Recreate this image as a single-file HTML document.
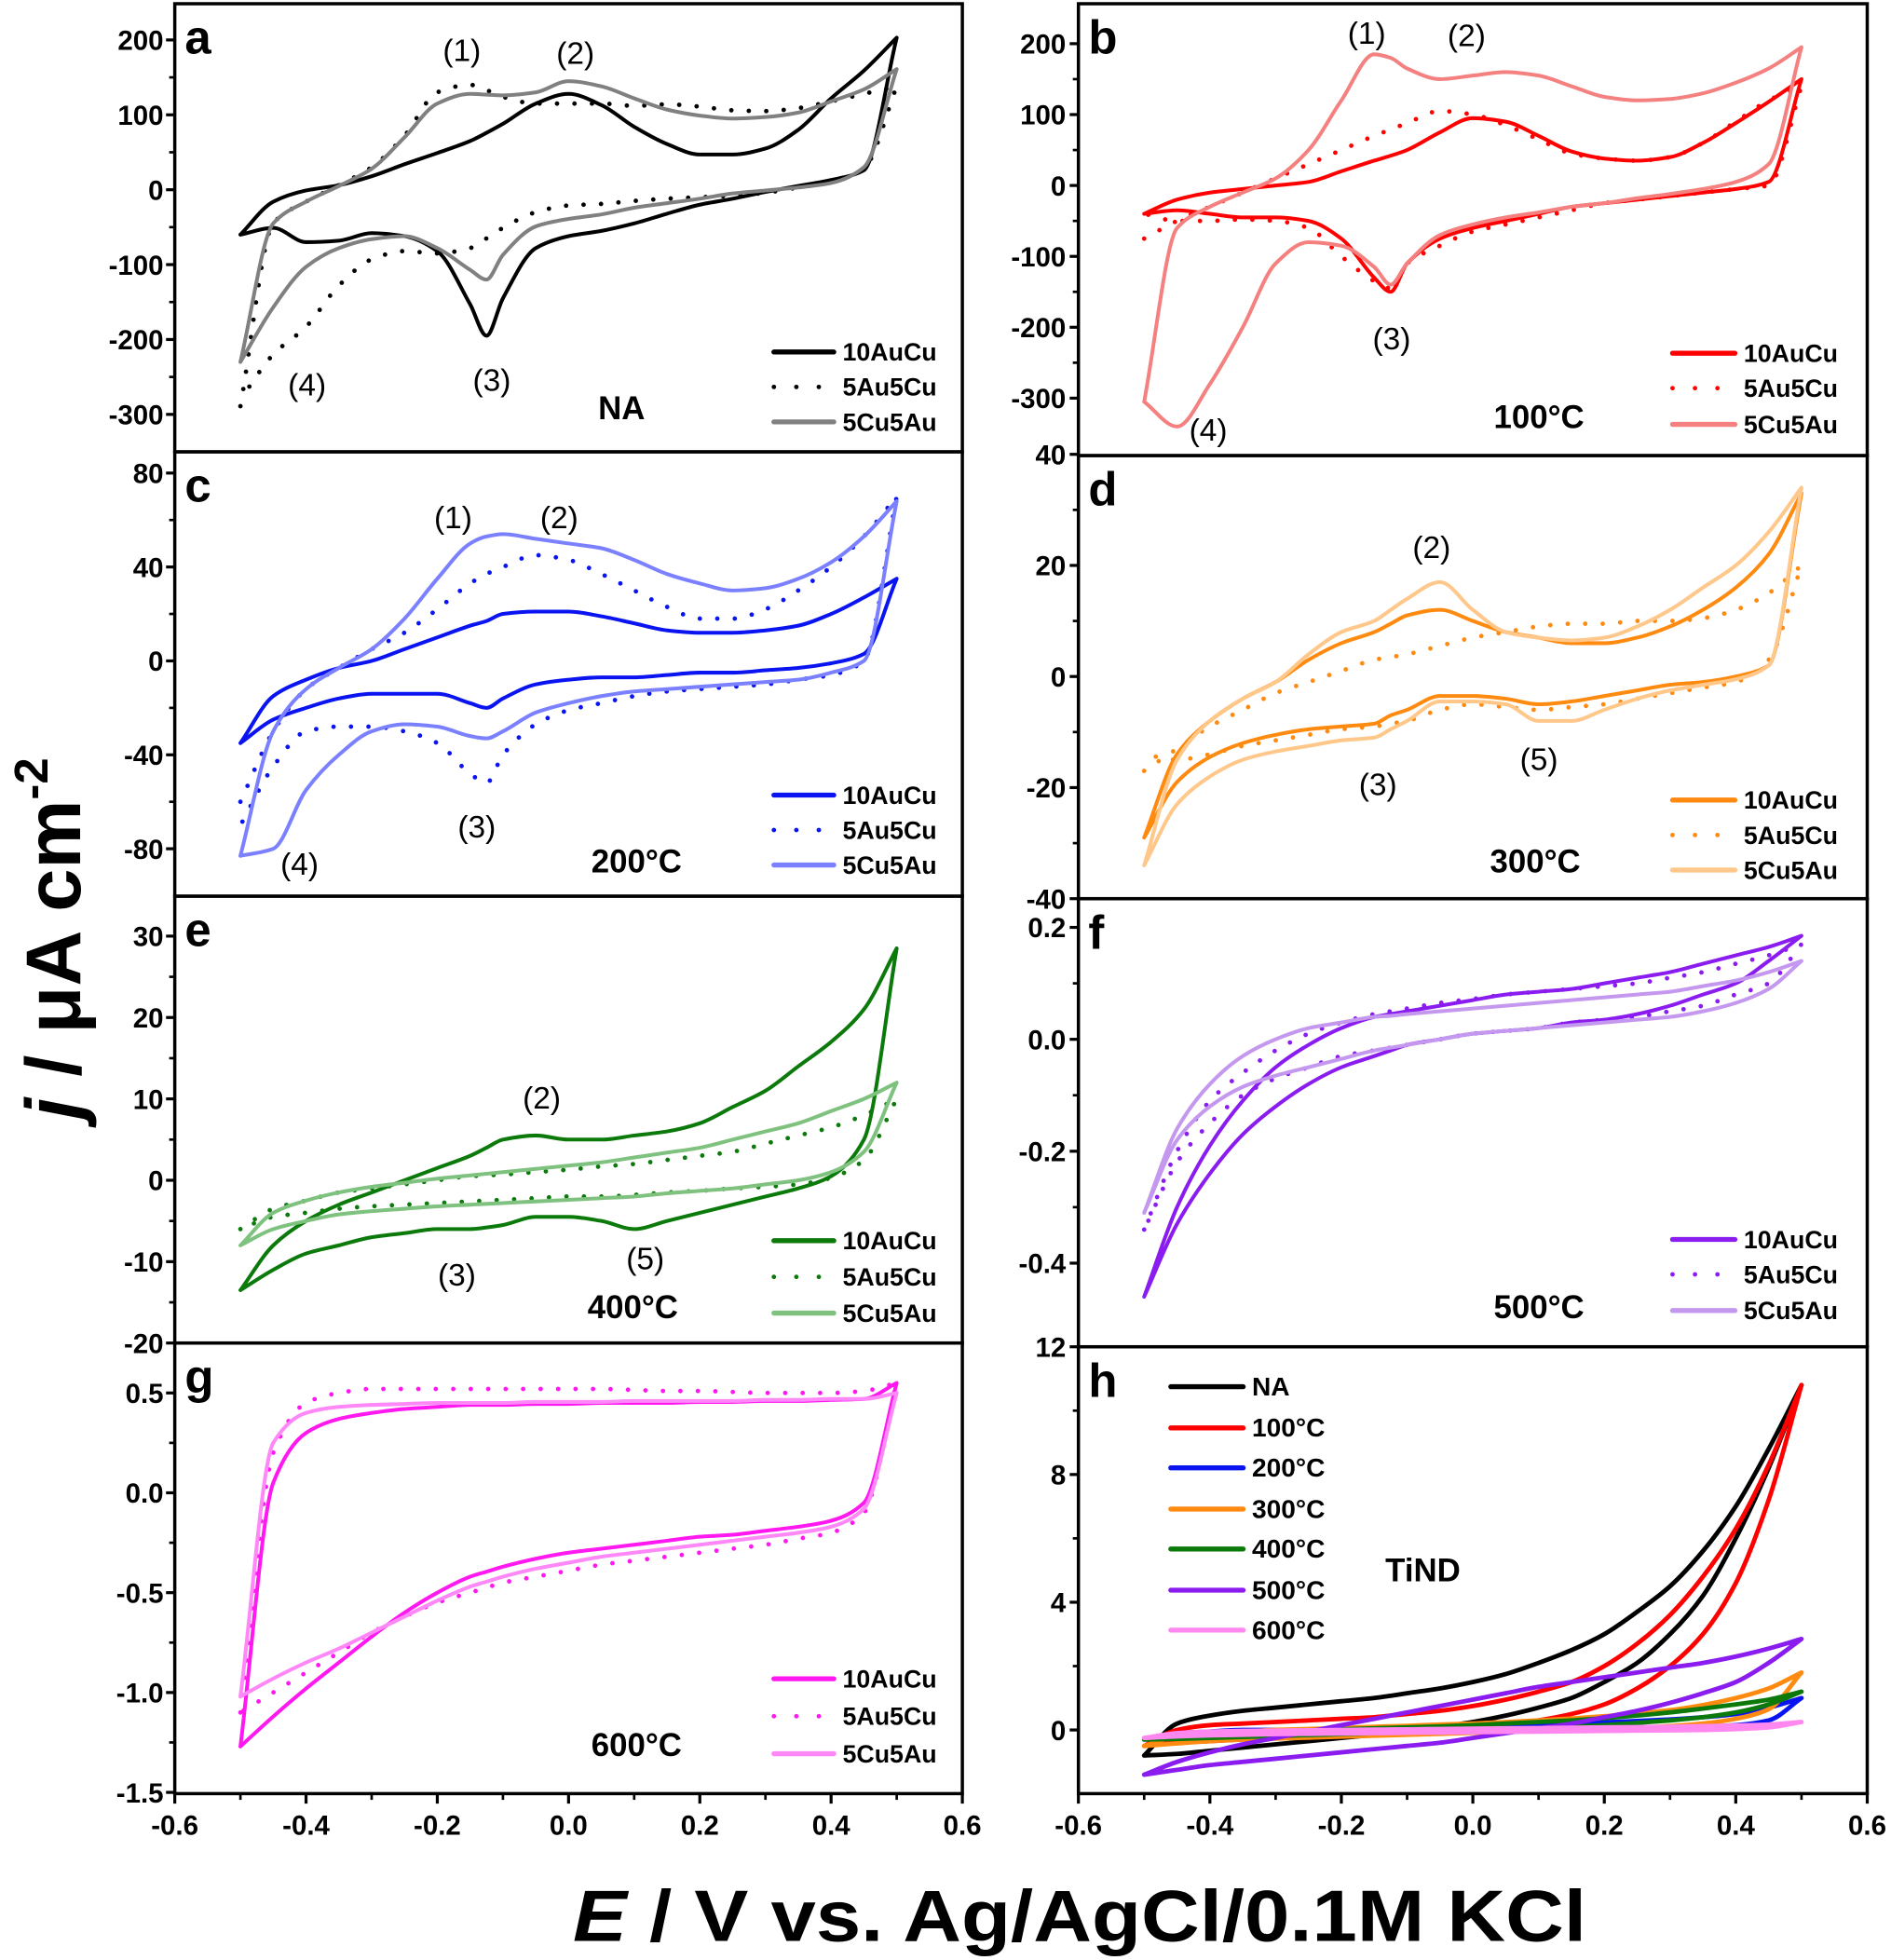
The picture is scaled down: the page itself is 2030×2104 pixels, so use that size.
<!DOCTYPE html>
<html><head><meta charset="utf-8"><title>CV panels</title>
<style>
html,body{margin:0;padding:0;background:#fff;}
svg{display:block;}
text{font-family:"Liberation Sans",Arial,sans-serif;}
</style></head>
<body>
<svg id="fig" xmlns="http://www.w3.org/2000/svg" width="2030" height="2104" viewBox="0 0 1515 1570.3">
<rect x="0" y="0" width="1515" height="1571" fill="#fff"/>
<text transform="translate(64,752) rotate(-90)" text-anchor="middle" font-size="62" font-weight="bold"><tspan font-style="italic">j</tspan> / μA cm<tspan font-size="38" dy="-26">-2</tspan></text>
<text x="865" y="1555" text-anchor="middle" font-size="58" font-weight="bold" textLength="812" lengthAdjust="spacingAndGlyphs"><tspan font-style="italic">E</tspan> / V vs. Ag/AgCl/0.1M KCl</text>
</svg>
<script>
// shared potential grid (V)
const E = [-0.5,-0.45,-0.4,-0.35,-0.3,-0.25,-0.2,-0.15,-0.125,-0.1,-0.05,0,0.05,0.1,0.15,0.2,0.25,0.3,0.35,0.4,0.45,0.5];
const xTickValues = [-0.6,-0.4,-0.2,0,0.2,0.4,0.6];
const xTickLabels = ["-0.6","-0.4","-0.2","0.0","0.2","0.4","0.6"];
const seriesNames = ["10AuCu","5Au5Cu","5Cu5Au"];
const tindNames = ["NA","100°C","200°C","300°C","400°C","500°C","600°C"];

// panel a (NA)
const a10Up = [-60,-16,-1,6,18,34,49,65,76,88,115,128,113,84,61,47,47,55,80,122,159,203];
const a10Lo = [-60,-51,-70,-68,-58,-62,-82,-153,-195,-145,-78,-62,-55,-45,-32,-20,-12,-3,5,13,26];
const a55Up = [-289,-45,-16,6,30,72,130,140,133,124,115,115,115,112,114,111,106,105,109,118,128,138];
const a55Lo = [-280,-220,-183,-128,-93,-82,-85,-78,-65,-51,-30,-21,-19,-15,-12,-10,-8,-4,3,10,28];
const a5cUp = [-230,-45,-16,5,28,70,115,128,127,126,130,145,138,122,107,99,95,97,103,118,134,161];
const a5cLo = [-230,-157,-103,-78,-66,-62,-78,-107,-120,-87,-49,-39,-33,-24,-18,-12,-5,-1,3,9,30];
// panel b (100C)
const b10Up = [-40,-20,-10,-5,0,5,20,35,42,50,75,95,90,70,48,38,35,40,60,88,118,150];
const b10Lo = [-40,-35,-40,-45,-45,-50,-75,-130,-150,-110,-75,-60,-50,-40,-30,-25,-20,-15,-10,-5,5];
const b55Up = [-75,-50,-30,-10,10,30,50,70,79,88,105,100,85,65,45,38,35,40,60,90,120,140];
const b55Lo = [-40,-50,-50,-48,-50,-60,-100,-135,-145,-110,-85,-65,-55,-45,-35,-25,-20,-15,-10,-5,0];
const b5cUp = [-305,-60,-30,-10,10,50,120,185,180,165,150,155,160,155,140,125,120,122,130,145,165,195];
const b5cLo = [-305,-340,-280,-200,-110,-80,-85,-115,-140,-110,-70,-55,-45,-38,-30,-25,-18,-12,-5,5,30];
// panel c (200C)
const c10Up = [-35,-15,-8,-3,0,5,10,15,17,20,21,21,19,16,13,12,12,13,15,20,27,35];
const c10Lo = [-35,-25,-20,-16,-14,-14,-14,-18,-20,-16,-10,-8,-7,-7,-6,-5,-5,-4,-3,-1,3];
const c55Up = [-60,-30,-12,-3,5,12,22,33,37,40,45,43,37,30,23,18,18,22,30,40,53,70];
const c55Lo = [-70,-45,-30,-28,-28,-30,-35,-48,-52,-40,-27,-21,-18,-15,-13,-12,-11,-10,-8,-6,0];
const c5cUp = [-83,-30,-12,-3,5,18,35,50,53,54,52,50,48,43,37,33,30,31,35,42,53,68];
const c5cLo = [-83,-80,-55,-40,-30,-27,-28,-32,-33,-30,-22,-18,-15,-13,-12,-11,-10,-9,-8,-5,0];
// panel d (300C)
const d10Up = [-29,-14,-8,-4,-1,3,6,8,9.5,11,12,10,8,7,6,6,7,9,12,16,22,33];
const d10Lo = [-29,-19,-14.5,-12,-10.5,-9.5,-9,-8.5,-7,-6,-3.5,-3.5,-4,-5,-4.5,-3.5,-2.5,-1.5,-1,0,2];
const d55Up = [-17,-13,-9,-6,-3,-1,1,3,3.5,4,5.5,7,8,9,9.5,9.5,10,10,10.5,12,15,20];
const d55Lo = [-14,-15,-14,-12.5,-11.5,-10.5,-9.5,-9,-8.5,-8,-6,-5,-5.5,-6,-5.5,-5,-4,-3,-2,-1,3];
const d5cUp = [-34,-15,-8,-4,-1,4,8,10,12,14,17,12,8,7,6.5,7,9,12,16,20,26,34];
const d5cLo = [-34,-23,-18,-15,-13.5,-12.5,-11.5,-11,-9.5,-8,-4.5,-4.5,-5,-8,-8,-6,-4,-2.5,-1.5,-0.5,2];
// panel e (400C)
const e10Up = [-13.5,-8,-5,-3,-1.5,0,1.5,3,4,5,5.5,5,5,5.5,6,7,9,11,14,17,21,28.5];
const e10Lo = [-13.5,-11,-9,-8,-7,-6.5,-6,-6,-5.8,-5.5,-4.5,-4.5,-5,-6,-5,-4,-3,-2,-1,0.5,5];
const e55Up = [-6,-3.5,-2.5,-1.5,-1,-0.5,0,0.5,0.6,0.7,1,1.3,1.7,2,2.5,3,3.5,4.5,5.5,6.5,8,10];
const e55Lo = [-6,-4.5,-4,-3.5,-3.2,-3,-2.8,-2.6,-2.5,-2.4,-2.2,-2,-2,-1.8,-1.5,-1.3,-1,-0.8,-0.5,0.3,2.5];
const e5cUp = [-8,-4,-2.5,-1.5,-0.8,-0.3,0.2,0.6,0.8,1,1.4,1.8,2.2,2.8,3.4,4,5,6,7,8.5,10,12];
const e5cLo = [-8,-6,-5,-4.2,-3.8,-3.5,-3.2,-3,-2.9,-2.8,-2.6,-2.4,-2.2,-2,-1.6,-1.3,-1,-0.5,0,1,3.5];
// panel f (500C)
const f10Up = [-0.46,-0.3,-0.19,-0.11,-0.05,-0.01,0.02,0.04,0.045,0.05,0.06,0.07,0.08,0.085,0.09,0.1,0.11,0.12,0.135,0.15,0.165,0.185];
const f10Lo = [-0.46,-0.33,-0.24,-0.17,-0.12,-0.08,-0.05,-0.03,-0.02,-0.01,0,0.01,0.015,0.02,0.03,0.035,0.045,0.06,0.08,0.1,0.14];
const f55Up = [-0.34,-0.2,-0.11,-0.06,-0.02,0.01,0.03,0.045,0.05,0.055,0.065,0.072,0.08,0.085,0.09,0.095,0.1,0.11,0.12,0.135,0.15,0.17];
const f55Lo = [-0.34,-0.22,-0.15,-0.1,-0.07,-0.05,-0.03,-0.02,-0.015,-0.01,0,0.01,0.015,0.02,0.03,0.035,0.04,0.05,0.06,0.08,0.1];
const f5cUp = [-0.31,-0.16,-0.08,-0.03,0,0.02,0.03,0.04,0.042,0.045,0.05,0.055,0.06,0.065,0.07,0.075,0.08,0.085,0.095,0.105,0.12,0.14];
const f5cLo = [-0.31,-0.18,-0.12,-0.085,-0.065,-0.05,-0.035,-0.02,-0.015,-0.01,0,0.01,0.015,0.02,0.025,0.03,0.035,0.04,0.05,0.065,0.09];
// panel g (600C)
const g10Up = [-1.27,0.05,0.3,0.37,0.4,0.42,0.43,0.44,0.44,0.44,0.445,0.445,0.45,0.45,0.45,0.455,0.455,0.46,0.46,0.465,0.47,0.55];
const g10Lo = [-1.27,-1.12,-0.98,-0.85,-0.72,-0.6,-0.5,-0.42,-0.395,-0.37,-0.33,-0.3,-0.28,-0.26,-0.24,-0.22,-0.21,-0.19,-0.17,-0.14,-0.05];
const g55Up = [-1.1,0.2,0.45,0.5,0.52,0.52,0.52,0.52,0.52,0.52,0.52,0.52,0.52,0.515,0.51,0.51,0.505,0.5,0.5,0.5,0.51,0.55];
const g55Lo = [-1.1,-1.0,-0.9,-0.8,-0.7,-0.62,-0.55,-0.5,-0.475,-0.45,-0.42,-0.39,-0.36,-0.34,-0.32,-0.3,-0.28,-0.26,-0.23,-0.2,-0.1];
const g5cUp = [-1.02,0.25,0.4,0.43,0.44,0.445,0.45,0.45,0.45,0.45,0.455,0.455,0.455,0.46,0.46,0.46,0.46,0.465,0.465,0.47,0.47,0.5];
const g5cLo = [-1.02,-0.93,-0.85,-0.78,-0.7,-0.62,-0.54,-0.47,-0.445,-0.42,-0.38,-0.35,-0.32,-0.3,-0.28,-0.26,-0.24,-0.22,-0.2,-0.17,-0.08];
// panel h (TiND)
const hNAUp = [-0.8,0.2,0.45,0.6,0.7,0.8,0.9,1.0,1.07,1.15,1.3,1.5,1.75,2.1,2.5,3.0,3.7,4.5,5.6,7,8.8,10.8];
const hNALo = [-0.8,-0.75,-0.65,-0.55,-0.45,-0.35,-0.25,-0.15,-0.1,-0.05,0.1,0.25,0.45,0.7,1.0,1.5,2.1,3.0,4.2,6.0,8.2];
const h100Up = [-0.5,0,0.15,0.2,0.25,0.3,0.35,0.4,0.45,0.5,0.6,0.75,0.95,1.2,1.5,2.0,2.7,3.6,4.8,6.3,8.3,10.8];
const h100Lo = [-0.5,-0.4,-0.35,-0.3,-0.25,-0.2,-0.15,-0.1,-0.08,-0.05,0,0.05,0.15,0.3,0.5,0.8,1.3,2.0,3.0,4.6,7.2];
const h200Up = [-0.3,-0.1,-0.05,0,0,0.02,0.04,0.06,0.07,0.08,0.1,0.12,0.14,0.17,0.2,0.24,0.28,0.33,0.4,0.5,0.7,1.0];
const h200Lo = [-0.3,-0.24,-0.2,-0.18,-0.16,-0.14,-0.12,-0.1,-0.09,-0.08,-0.06,-0.04,-0.02,0,0.02,0.04,0.06,0.08,0.1,0.15,0.3];
const h300Up = [-0.5,-0.2,-0.1,-0.05,0,0.03,0.06,0.1,0.115,0.13,0.17,0.2,0.25,0.3,0.36,0.43,0.52,0.62,0.78,1.0,1.3,1.8];
const h300Lo = [-0.5,-0.42,-0.35,-0.3,-0.27,-0.24,-0.21,-0.18,-0.165,-0.15,-0.12,-0.09,-0.06,-0.03,0,0.03,0.07,0.12,0.2,0.35,0.65];
const h400Up = [-0.3,-0.15,-0.1,-0.07,-0.04,-0.01,0.02,0.05,0.065,0.08,0.11,0.15,0.2,0.25,0.3,0.37,0.45,0.55,0.67,0.8,0.95,1.2];
const h400Lo = [-0.3,-0.28,-0.25,-0.22,-0.19,-0.16,-0.13,-0.1,-0.085,-0.07,-0.04,-0.01,0.02,0.05,0.1,0.15,0.22,0.3,0.4,0.55,0.8];
const h500Up = [-1.4,-1.0,-0.7,-0.45,-0.25,-0.05,0.15,0.35,0.45,0.55,0.75,0.95,1.15,1.35,1.5,1.65,1.8,1.95,2.1,2.3,2.55,2.85];
const h500Lo = [-1.4,-1.25,-1.1,-1.0,-0.9,-0.8,-0.7,-0.6,-0.55,-0.5,-0.4,-0.25,-0.1,0.05,0.2,0.4,0.6,0.85,1.15,1.5,2.1];
const h600Up = [-0.25,-0.1,-0.05,-0.03,-0.02,-0.01,0,0.01,0.015,0.02,0.03,0.04,0.05,0.06,0.07,0.08,0.09,0.1,0.12,0.14,0.17,0.25];
const h600Lo = [-0.25,-0.2,-0.17,-0.15,-0.13,-0.12,-0.11,-0.1,-0.095,-0.09,-0.08,-0.07,-0.06,-0.05,-0.04,-0.03,-0.02,-0.01,0,0.03,0.08];

// y tick values / labels
const aTicks = [200,100,0,-100,-200,-300]; const aLabels = ["200","100","0","-100","-200","-300"];
const bTicks = [200,100,0,-100,-200,-300]; const bLabels = ["200","100","0","-100","-200","-300"];
const cTicks = [80,40,0,-40,-80]; const cLabels = ["80","40","0","-40","-80"];
const dTicks = [40,20,0,-20,-40]; const dLabels = ["40","20","0","-20","-40"];
const eTicks = [30,20,10,0,-10,-20]; const eLabels = ["30","20","10","0","-10","-20"];
const fTicks = [0.2,0,-0.2,-0.4]; const fLabels = ["0.2","0.0","-0.2","-0.4"];
const gTicks = [0.5,0,-0.5,-1,-1.5]; const gLabels = ["0.5","0.0","-0.5","-1.0","-1.5"];
const hTicks = [12,8,4,0]; const hLabels = ["12","8","4","0"];

const NS = "http://www.w3.org/2000/svg";
const svg = document.getElementById('fig');
const LEFT = {x0:140, x1:771, lab:131};
const RIGHT = {x0:864, x1:1496, lab:854};

function mk(tag, attrs, parent){
  const el = document.createElementNS(NS, tag);
  for (const k in attrs) el.setAttribute(k, attrs[k]);
  (parent||svg).appendChild(el);
  return el;
}
function sx(col, e){ return col.x0 + (e + 0.6) / 1.2 * (col.x1 - col.x0); }
function mkScale(v1,p1,v2,p2){ return v => p1 + (v - v1) * (p2 - p1) / (v2 - v1); }
// monotone cubic (Fritsch-Carlson style) through x-ascending pixel points
function tangents(pts){
  const n = pts.length, d = [], m = [];
  for (let k = 0; k < n - 1; k++) d.push((pts[k+1][1] - pts[k][1]) / (pts[k+1][0] - pts[k][0]));
  m[0] = d[0]; m[n-1] = d[n-2];
  for (let k = 1; k < n - 1; k++){
    if (d[k-1] * d[k] <= 0) m[k] = 0;
    else m[k] = 2 / (1 / d[k-1] + 1 / d[k]);
  }
  return m;
}
function f2(v){ return v.toFixed(2); }
function monoForward(pts){
  const m = tangents(pts); let s = "";
  for (let k = 0; k < pts.length - 1; k++){
    const h = pts[k+1][0] - pts[k][0];
    s += " C" + f2(pts[k][0] + h/3) + "," + f2(pts[k][1] + m[k]*h/3) + " " +
         f2(pts[k+1][0] - h/3) + "," + f2(pts[k+1][1] - m[k+1]*h/3) + " " + f2(pts[k+1][0]) + "," + f2(pts[k+1][1]);
  }
  return s;
}
function monoBackward(pts){
  const m = tangents(pts); let s = "";
  for (let k = pts.length - 2; k >= 0; k--){
    const h = pts[k+1][0] - pts[k][0];
    s += " C" + f2(pts[k+1][0] - h/3) + "," + f2(pts[k+1][1] - m[k+1]*h/3) + " " +
         f2(pts[k][0] + h/3) + "," + f2(pts[k][1] + m[k]*h/3) + " " + f2(pts[k][0]) + "," + f2(pts[k][1]);
  }
  return s;
}
function loopPath(col, ys, up, lo){
  const upPts = up.map((v,i) => [sx(col,E[i]), ys(v)]);
  const loPts = lo.map((v,i) => [sx(col,E[i]), ys(v)]);
  loPts.push(upPts[upPts.length-1]);
  return "M" + f2(upPts[0][0]) + "," + f2(upPts[0][1]) + monoForward(upPts) + monoBackward(loPts);
}

function panel(p){
  const col = p.col;
  const ys = mkScale(p.v1, p.p1, p.v2, p.p2);
  const g = mk('g', {});
  
  
  const cid = 'clip-' + p.id;
  const cp = mk('clipPath', {id: cid}, g);
  mk('rect', {x: col.x0, y: p.top, width: col.x1 - col.x0, height: p.bot - p.top}, cp);
  const sg = mk('g', {'clip-path': 'url(#' + cid + ')'}, g);
  
  
  p.series.forEach(s => {
    const path = mk('path', {d: loopPath(col, ys, s.up, s.lo), fill: 'none', stroke: s.color,
      'stroke-width': s.dotted ? 3.6 : (s.w || 3), 'stroke-linecap': 'round', 'stroke-linejoin': 'round'}, sg);
    if (s.dotted) path.setAttribute('stroke-dasharray', '0 14');
    
    
  });
  const fr = mk('rect', {x: col.x0, y: p.top, width: col.x1 - col.x0, height: p.bot - p.top, fill: 'none', stroke: '#000', 'stroke-width': 2.6}, g);
  
  
  p.ticks.forEach((v, i) => {
    const y = ys(v);
    const t = mk('line', {x1: col.x0 - 7, x2: col.x0, y1: y, y2: y, stroke: '#000', 'stroke-width': 2.4}, g);
    
    
    const tx = mk('text', {x: col.lab, y: y + 8, 'text-anchor': 'end', 'font-size': 22, 'font-weight': 'bold'}, g);
    tx.textContent = p.labels[i];
    
    
    if (i < p.ticks.length - 1){
      const ym = ys((v + p.ticks[i+1]) / 2);
      const m = mk('line', {x1: col.x0 - 4.5, x2: col.x0, y1: ym, y2: ym, stroke: '#000', 'stroke-width': 2}, g);
      
      
    }
  });
  const L = mk('text', {x: col.x0 + 8, y: p.top + 40, 'font-size': 38, 'font-weight': 'bold'}, g);
  L.textContent = p.id;
  
  
  if (p.cond){
    const c = mk('text', {x: p.cond[1], y: p.cond[2], 'text-anchor': 'middle', 'font-size': 26, 'font-weight': 'bold'}, g);
    c.textContent = p.cond[0];
    
    
  }
  (p.ann || []).forEach(a => {
    const t = mk('text', {x: a[1], y: a[2] + 9, 'text-anchor': 'middle', 'font-size': 25}, g);
    t.textContent = a[0];
    
    
  });
  const lg = mk('g', {}, g);
  
  
  p.series.forEach((s, i) => {
    const y = p.leg.y[i];
    const ln = mk('line', {x1: p.leg.x1, x2: p.leg.x2, y1: y, y2: y, stroke: s.color,
      'stroke-width': s.dotted ? 3.6 : 4, 'stroke-linecap': 'round'}, lg);
    if (s.dotted) ln.setAttribute('stroke-dasharray', '0 18');
    
    
    const tx = mk('text', {x: p.leg.tx, y: y + 7, 'font-size': p.leg.fs || 20, 'font-weight': 'bold'}, lg);
    tx.textContent = s.name;
    
    
  });
  return ys;
}

function trio(id, up1, lo1, up2, lo2, up3, lo3, c1, c2, c3){
  return [
    {key:'10aucu', name: seriesNames[0], up: up1, lo: lo1, color: c1, dotted: false},
    {key:'5au5cu', name: seriesNames[1], up: up2, lo: lo2, color: c2, dotted: true},
    {key:'5cu5au', name: seriesNames[2], up: up3, lo: lo3, color: c3, dotted: false}
  ];
}

const legL = y => ({x1: 620, x2: 668, tx: 675, y: y});
const legR = y => ({x1: 1340, x2: 1390, tx: 1397, y: y});

panel({id:'a', col:LEFT, top:3, bot:362, v1:200, p1:32, v2:-300, p2:332, ticks:aTicks, labels:aLabels,
  series: trio('a', a10Up,a10Lo,a55Up,a55Lo,a5cUp,a5cLo,'#000000','#000000','#808080'),
  cond:['NA',498,336], ann:[['(1)',370,40],['(2)',461,42],['(3)',394,304],['(4)',246,308]], leg: legL([282,310,338])});
panel({id:'b', col:RIGHT, top:3, bot:365, v1:200, p1:35, v2:-300, p2:319, ticks:bTicks, labels:bLabels,
  series: trio('b', b10Up,b10Lo,b55Up,b55Lo,b5cUp,b5cLo,'#ff0000','#ff0000','#f58080'),
  cond:['100°C',1233,343], ann:[['(1)',1095,26],['(2)',1175,28],['(3)',1115,271],['(4)',968,344]], leg: legR([283,311,340])});
panel({id:'c', col:LEFT, top:362, bot:718, v1:80, p1:379, v2:-80, p2:680, ticks:cTicks, labels:cLabels,
  series: trio('c', c10Up,c10Lo,c55Up,c55Lo,c5cUp,c5cLo,'#0a14f0','#0a14f0','#7b80ff'),
  cond:['200°C',510,699], ann:[['(1)',363,414],['(2)',448,414],['(3)',382,662],['(4)',240,692]], leg: legL([637,665,693])});
panel({id:'d', col:RIGHT, top:365, bot:720, v1:20, p1:453, v2:-40, p2:720, ticks:dTicks, labels:dLabels,
  series: trio('d', d10Up,d10Lo,d55Up,d55Lo,d5cUp,d5cLo,'#ff8a10','#ff8a10','#ffc88a'),
  cond:['300°C',1230,699], ann:[['(2)',1147,438],['(3)',1104,628],['(5)',1233,608]], leg: legR([641,669,697])});
panel({id:'e', col:LEFT, top:718, bot:1076, v1:30, p1:750, v2:-20, p2:1076, ticks:eTicks, labels:eLabels,
  series: trio('e', e10Up,e10Lo,e55Up,e55Lo,e5cUp,e5cLo,'#0b7a0b','#0b7a0b','#7fc27f'),
  cond:['400°C',507,1056], ann:[['(2)',434,879],['(3)',366,1021],['(5)',517,1008]], leg: legL([994,1023,1052])});
panel({id:'f', col:RIGHT, top:720, bot:1079, v1:0.2, p1:743, v2:-0.4, p2:1012, ticks:fTicks, labels:fLabels,
  series: trio('f', f10Up,f10Lo,f55Up,f55Lo,f5cUp,f5cLo,'#8a1cf0','#8a1cf0','#c498ee'),
  cond:['500°C',1233,1056], ann:[], leg: legR([993,1021,1050])});
panel({id:'g', col:LEFT, top:1076, bot:1437, v1:0.5, p1:1116, v2:-1.5, p2:1436, ticks:gTicks, labels:gLabels,
  series: trio('g', g10Up,g10Lo,g55Up,g55Lo,g5cUp,g5cLo,'#ff18f0','#ff18f0','#ff88f8'),
  cond:['600°C',510,1407], ann:[], leg: legL([1345,1375,1405])});

const hColors = ['#000000','#ff0000','#0a14f0','#ff8a10','#0b7a0b','#8a1cf0','#ff88f0'];
const hUps = [hNAUp,h100Up,h200Up,h300Up,h400Up,h500Up,h600Up];
const hLos = [hNALo,h100Lo,h200Lo,h300Lo,h400Lo,h500Lo,h600Lo];
panel({id:'h', col:RIGHT, top:1079, bot:1437, v1:12, p1:1079, v2:0, p2:1386, ticks:hTicks, labels:hLabels,
  series: tindNames.map((n,i) => ({key: 'tind-' + i, name: n, up: hUps[i], lo: hLos[i], color: hColors[i], dotted: false, w: 3.6})),
  cond:['TiND',1140,1267], ann:[], leg: {x1: 938, x2: 996, tx: 1003, y: [1111,1144,1176,1209,1241,1274,1306], fs: 21}});

[LEFT, RIGHT].forEach((col, ci) => {
  const g = mk('g', {});
  
  
  xTickValues.forEach((v, i) => {
    const x = sx(col, v);
    const t = mk('line', {x1: x, x2: x, y1: 1437, y2: 1445, stroke: '#000', 'stroke-width': 2.4}, g);
    
    
    const tx = mk('text', {x: x, y: 1470, 'text-anchor': 'middle', 'font-size': 22, 'font-weight': 'bold'}, g);
    tx.textContent = xTickLabels[i];
    
    
    if (i < xTickValues.length - 1){
      const xm = sx(col, v + 0.1);
      const m = mk('line', {x1: xm, x2: xm, y1: 1437, y2: 1442, stroke: '#000', 'stroke-width': 2}, g);
      
      
    }
  });
});
</script>
</body></html>
